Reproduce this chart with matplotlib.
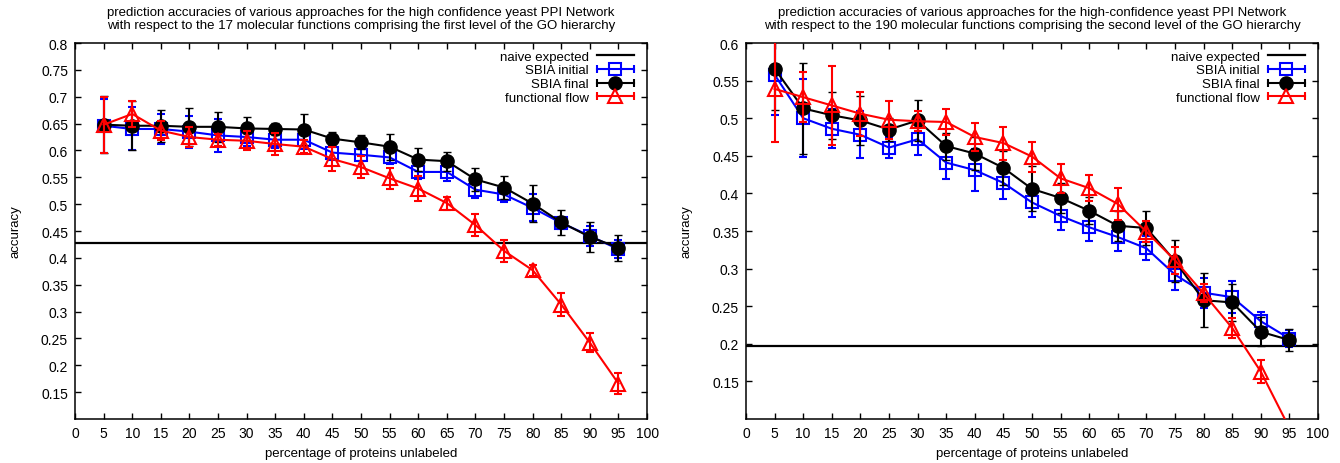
import numpy as np
import matplotlib
matplotlib.use('Agg')
import matplotlib.pyplot as plt
from matplotlib.lines import Line2D
from matplotlib.legend_handler import HandlerBase

plt.rcParams['font.family'] = ['Liberation Sans', 'DejaVu Sans']

# porcentaje de proteinas sin etiqueta
pct = [5, 10, 15, 20, 25, 30, 35, 40, 45, 50, 55, 60, 65, 70, 75, 80, 85, 90, 95]

# primer nivel de GO (17 funciones)
naive_1 = 0.427
init_1 = [0.646, 0.640, 0.640, 0.635, 0.628, 0.625, 0.620, 0.620, 0.596, 0.592,
          0.587, 0.560, 0.560, 0.527, 0.518, 0.493, 0.465, 0.441, 0.416]
init_1_err = [0.050, 0.040, 0.028, 0.030, 0.030, 0.017, 0.015, 0.018, 0.013, 0.012,
              0.013, 0.013, 0.017, 0.015, 0.014, 0.025, 0.012, 0.018, 0.017]
final_1 = [0.648, 0.646, 0.646, 0.644, 0.644, 0.641, 0.640, 0.639, 0.622, 0.615,
           0.607, 0.583, 0.580, 0.546, 0.531, 0.501, 0.466, 0.439, 0.419]
final_1_err = [0.053, 0.046, 0.030, 0.035, 0.028, 0.021, 0.012, 0.028, 0.012, 0.013,
               0.024, 0.022, 0.018, 0.021, 0.021, 0.034, 0.024, 0.028, 0.024]
flow_1 = [0.648, 0.668, 0.637, 0.625, 0.620, 0.618, 0.612, 0.607, 0.584, 0.569,
          0.548, 0.529, 0.502, 0.461, 0.413, 0.377, 0.313, 0.242, 0.166]
flow_1_err = [0.052, 0.025, 0.017, 0.019, 0.011, 0.018, 0.020, 0.012, 0.023, 0.020,
              0.019, 0.024, 0.012, 0.020, 0.020, 0.010, 0.021, 0.018, 0.020]

# segundo nivel de GO (190 funciones)
naive_2 = 0.197
init_2 = [0.558, 0.500, 0.486, 0.478, 0.461, 0.472, 0.441, 0.431, 0.414, 0.388,
          0.370, 0.355, 0.342, 0.327, 0.292, 0.268, 0.262, 0.230, 0.207]
init_2_err = [0.054, 0.052, 0.026, 0.031, 0.014, 0.021, 0.022, 0.028, 0.021, 0.019,
              0.019, 0.018, 0.018, 0.016, 0.020, 0.020, 0.021, 0.012, 0.011]
final_2 = [0.566, 0.513, 0.504, 0.497, 0.485, 0.497, 0.463, 0.453, 0.434, 0.406,
           0.394, 0.377, 0.357, 0.354, 0.310, 0.258, 0.255, 0.216, 0.205]
final_2_err = [0.055, 0.061, 0.031, 0.032, 0.015, 0.027, 0.018, 0.022, 0.023, 0.030,
               0.020, 0.018, 0.020, 0.022, 0.028, 0.036, 0.025, 0.019, 0.015]
flow_2 = [0.539, 0.528, 0.517, 0.506, 0.498, 0.496, 0.495, 0.475, 0.467, 0.449,
          0.420, 0.407, 0.386, 0.349, 0.311, 0.267, 0.221, 0.163, 0.088]
flow_2_err = [0.071, 0.033, 0.052, 0.029, 0.025, 0.013, 0.017, 0.018, 0.022, 0.020,
              0.019, 0.017, 0.021, 0.014, 0.018, 0.012, 0.013, 0.015, 0.010]

titles = ['prediction accuracies of various approaches for the high confidence yeast PPI Network\n'
          'with respect to the 17 molecular functions comprising the first level of the GO hierarchy',
          'prediction accuracies of various approaches for the high-confidence yeast PPI Network\n'
          'with respect to the 190 molecular functions comprising the second level of the GO hierarchy']
labels = ['naive expected', 'SBIA initial', 'SBIA final', 'functional flow']


class HandlerCapped(HandlerBase):
    # linea horizontal con topes, como la leyenda de gnuplot
    def create_artists(self, legend, orig, xd, yd, w, h, fs, trans):
        y = h / 2 - yd
        x0, x1 = -xd, w - xd
        c = orig.get_color()
        arts = [Line2D([x0, x1], [y, y], color=c, lw=orig.get_linewidth(), transform=trans)]
        if orig.get_marker() not in (None, 'None', ''):
            arts.append(Line2D([x0, x1], [y, y], ls='none', marker='|', ms=6, mew=1.5,
                               color=c, transform=trans))
            arts.append(Line2D([(x0 + x1) / 2], [y], ls='none', marker=orig.get_marker(),
                               ms=orig.get_markersize(), mfc=orig.get_markerfacecolor(),
                               mec=c, mew=orig.get_markeredgewidth(), transform=trans))
        return arts


fig = plt.figure(figsize=(13.4, 4.64), dpi=100)
ax1 = fig.add_axes([0.056, 0.0948, 0.4269, 0.8103])
ax2 = fig.add_axes([0.5567, 0.0948, 0.4269, 0.8103])

datos = [
    (ax1, naive_1, init_1, init_1_err, final_1, final_1_err, flow_1, flow_1_err, (0.1, 0.8)),
    (ax2, naive_2, init_2, init_2_err, final_2, final_2_err, flow_2, flow_2_err, (0.1, 0.6)),
]

for i, (ax, naive, ini, ini_e, fin, fin_e, flo, flo_e, ylim) in enumerate(datos):
    ax.axhline(naive, color='black', lw=1.6, zorder=1)
    ax.errorbar(pct, ini, yerr=ini_e, color='blue', lw=1.5, marker='s', ms=9,
                mfc='none', mew=1.5, capsize=3, elinewidth=1.5, capthick=1.5, zorder=2)
    ax.errorbar(pct, fin, yerr=fin_e, color='black', lw=1.5, marker='o', ms=9.5,
                mfc='black', mew=1.0, capsize=3, elinewidth=1.5, capthick=1.5, zorder=3)
    ax.errorbar(pct, flo, yerr=flo_e, color='red', lw=1.5, marker='^', ms=10,
                mfc='none', mew=1.5, capsize=3, elinewidth=1.5, capthick=1.5, zorder=4)

    ax.set_xlim(0, 100)
    ax.set_ylim(*ylim)
    ax.set_xticks(np.arange(0, 101, 5))
    yt = np.arange(0.15, ylim[1] + 0.001, 0.05)
    ax.set_yticks(yt)
    ax.set_yticklabels(['%g' % round(v, 2) for v in yt])
    ax.tick_params(direction='in', top=True, right=True, length=4, width=1,
                   labelsize=10, pad=5)
    for s in ax.spines.values():
        s.set_linewidth(1.1)
    ax.set_xlabel('percentage of proteins unlabeled', fontsize=9.5, labelpad=5)
    ax.set_ylabel('accuracy', fontsize=9.5, labelpad=14)
    ax.set_title(titles[i], fontsize=9.5, pad=10.5, linespacing=1.15)

    handles = [
        Line2D([], [], color='black', lw=1.6),
        Line2D([], [], color='blue', lw=1.5, marker='s', ms=9, mfc='none', mew=1.5),
        Line2D([], [], color='black', lw=1.5, marker='o', ms=9.5, mfc='black', mew=1.0),
        Line2D([], [], color='red', lw=1.5, marker='^', ms=10, mfc='none', mew=1.5),
    ]
    ax.legend(handles, labels, loc='upper right', bbox_to_anchor=(0.993, 1.005),
              frameon=False, markerfirst=False,
              fontsize=9.5, handlelength=2.8, handletextpad=0.6, labelspacing=0.12,
              borderaxespad=0.3, handler_map={Line2D: HandlerCapped()})

fig.savefig('out.png', dpi=100)
